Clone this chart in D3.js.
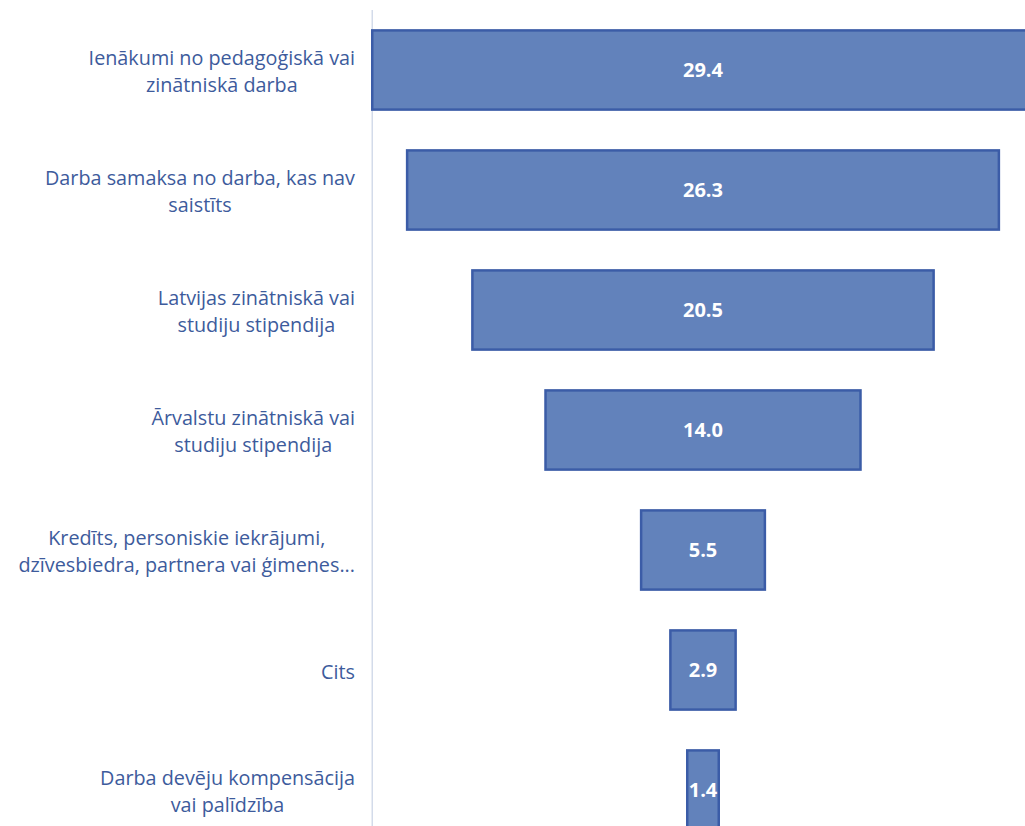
<!DOCTYPE html>
<html>
<head>
    <meta charset="UTF-8">
    <title>Funnel</title>
    <script src="https://d3js.org/d3.v7.min.js"></script>
    <style>
        body { margin: 0; background: white; }
    </style>
</head>
<body>
<div id="chart"></div>
<script>
    // categories (label lines) and values
    var categories = [
        ["Ienākumi no pedagoģiskā vai", "zinātniskā darba"],
        ["Darba samaksa no darba, kas nav", "saistīts"],
        ["Latvijas zinātniskā vai", "studiju stipendija"],
        ["Ārvalstu zinātniskā vai", "studiju stipendija"],
        ["Kredīts, personiskie iekrājumi,", "dzīvesbiedra, partnera vai ģimenes..."],
        ["Cits"],
        ["Darba devēju kompensācija", "vai palīdzība"]
    ];
    var values = [29.4, 26.3, 20.5, 14.0, 5.5, 2.9, 1.4];
    var valueLabels = ["29.4", "26.3", "20.5", "14.0", "5.5", "2.9", "1.4"];

    var width = 1025, height = 826;
    var labelRight = 355;

    var svg = d3.select("#chart").append("svg")
        .attr("width", width)
        .attr("height", height);

    // y bands, one per category
    var yScale = d3.scaleBand()
        .domain(d3.range(values.length))
        .range([10, 850])
        .paddingInner(0.34)
        .paddingOuter(0.17);

    // symmetric x scale around the funnel centre
    var xScale = d3.scaleLinear()
        .domain([-15, 15])
        .range([365.5, 1040.5]);

    // axis line at left edge of widest bar
    svg.append("line")
        .attr("x1", xScale(-d3.max(values) / 2))
        .attr("x2", xScale(-d3.max(values) / 2))
        .attr("y1", 10)
        .attr("y2", height)
        .attr("stroke", "#d3dbea")
        .attr("stroke-width", 1.5);

    // bars
    svg.selectAll("rect.bar")
        .data(values)
        .enter()
        .append("rect")
        .attr("class", "bar")
        .attr("x", function(d) { return xScale(-d / 2); })
        .attr("width", function(d) { return xScale(d / 2) - xScale(-d / 2); })
        .attr("y", function(d, i) { return yScale(i); })
        .attr("height", yScale.bandwidth())
        .attr("fill", "#6282bb")
        .attr("stroke", "#3b5ca7")
        .attr("stroke-width", 2.5);

    // value labels
    svg.selectAll("text.val")
        .data(values)
        .enter()
        .append("text")
        .attr("class", "val")
        .attr("x", xScale(0))
        .attr("y", function(d, i) { return yScale(i) + yScale.bandwidth() / 2; })
        .attr("dy", "0.36em")
        .attr("text-anchor", "middle")
        .attr("font-family", "Open Sans, sans-serif")
        .attr("font-weight", "bold")
        .attr("font-size", "20px")
        .attr("fill", "white")
        .text(function(d, i) { return valueLabels[i]; });

    // category labels: centred lines, block right-aligned
    var lineH = 27;
    categories.forEach(function(lines, i) {
        var cy = yScale(i) + yScale.bandwidth() / 2 + 2;
        var g = svg.append("text")
            .attr("font-family", "Open Sans, sans-serif")
            .attr("font-size", "19.8px")
            .attr("fill", "#3d5b9c")
            .attr("text-anchor", "middle");
        var spans = lines.map(function(t, j) {
            return g.append("tspan")
                .attr("y", cy + (j - (lines.length - 1) / 2) * lineH)
                .attr("dy", "0.35em")
                .text(t);
        });
        var maxW = d3.max(spans, function(s) { return s.node().getComputedTextLength(); });
        spans.forEach(function(s) { s.attr("x", labelRight - maxW / 2); });
    });
</script>
</body>
</html>
